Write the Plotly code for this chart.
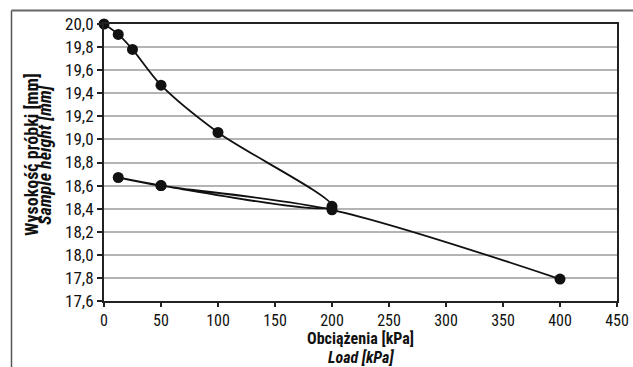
import plotly.graph_objects as go

# Data (load in kPa, sample height in mm) in test order:
# loading 0 -> 200, unloading 200 -> 12.5, reloading 12.5 -> 400
load = [0, 12.5, 25, 50, 100, 200, 50, 12.5, 50, 200, 400]
height = [20.00, 19.91, 19.78, 19.47, 19.06, 18.42, 18.60, 18.67, 18.60, 18.39, 17.79]

x_ticks = [0, 50, 100, 150, 200, 250, 300, 350, 400, 450]
y_ticks = [17.6, 17.8, 18.0, 18.2, 18.4, 18.6, 18.8, 19.0, 19.2, 19.4, 19.6, 19.8, 20.0]

W, H = 633, 367
L, R, T, B = 104, 16, 24, 66
pw, ph = W - L - R, H - T - B

def px(x):
    return (x - L) / pw

def py(y):
    return (H - B - y) / ph

FONT = "Roboto Condensed, Roboto, Liberation Sans Narrow, sans-serif"

fig = go.Figure()
fig.add_trace(go.Scatter(
    x=load, y=height, mode="lines+markers",
    line=dict(color="#111111", width=1.8, shape="spline", smoothing=0.85),
    marker=dict(color="#111111", size=11),
    cliponaxis=False, showlegend=False,
))

fig.update_layout(
    width=W, height=H,
    margin=dict(l=L, r=R, t=T, b=B),
    paper_bgcolor="white", plot_bgcolor="white",
    separators=",.",
    font=dict(family=FONT, size=16, color="#111111"),
    xaxis=dict(
        range=[0, 450], tickvals=x_ticks, ticks="outside", ticklen=4,
        tickwidth=1.5, tickcolor="#222", showgrid=False, zeroline=False,
        showline=True, linecolor="#222", linewidth=2, mirror=True,
        automargin=False, tickfont=dict(family=FONT, size=16),
    ),
    yaxis=dict(
        range=[17.6, 20.0], tickvals=y_ticks, tickformat=".1f",
        ticks="outside", ticklen=5, tickwidth=1.5, tickcolor="#222",
        showgrid=True, gridcolor="#b4b4b4", gridwidth=1.5, zeroline=False,
        showline=True, linecolor="#222", linewidth=2, mirror=True,
        automargin=False, tickfont=dict(family=FONT, size=17),
    ),
    shapes=[
        dict(type="line", xref="paper", yref="paper",
             x0=px(11.5), y0=py(10.5), x1=px(11.5), y1=py(H + 5),
             line=dict(color="#555", width=1.5)),
        dict(type="line", xref="paper", yref="paper",
             x0=px(11.5), y0=py(10.5), x1=px(W + 5), y1=py(10.5),
             line=dict(color="#666", width=2)),
    ],
    annotations=[
        dict(text="<b>Obciążenia [kPa]</b>", xref="paper", yref="paper",
             x=0.5, y=py(338.5), showarrow=False, xanchor="center", yanchor="middle",
             borderpad=0, font=dict(family=FONT, size=16)),
        dict(text="<b><i>Load [kPa]</i></b>", xref="paper", yref="paper",
             x=0.5, y=py(357.5), showarrow=False, xanchor="center", yanchor="middle",
             borderpad=0, font=dict(family=FONT, size=16)),
        dict(text="<b>Wysokość próbki [mm]</b>", xref="paper", yref="paper",
             x=px(32), y=py(155), showarrow=False, textangle=-90,
             xanchor="center", yanchor="middle",
             font=dict(family=FONT, size=18)),
        dict(text="<b><i>Sample height [mm]</i></b>", xref="paper", yref="paper",
             x=px(45), y=py(155), showarrow=False, textangle=-90,
             xanchor="center", yanchor="middle",
             font=dict(family=FONT, size=18)),
    ],
)

fig.write_html("out.html")
